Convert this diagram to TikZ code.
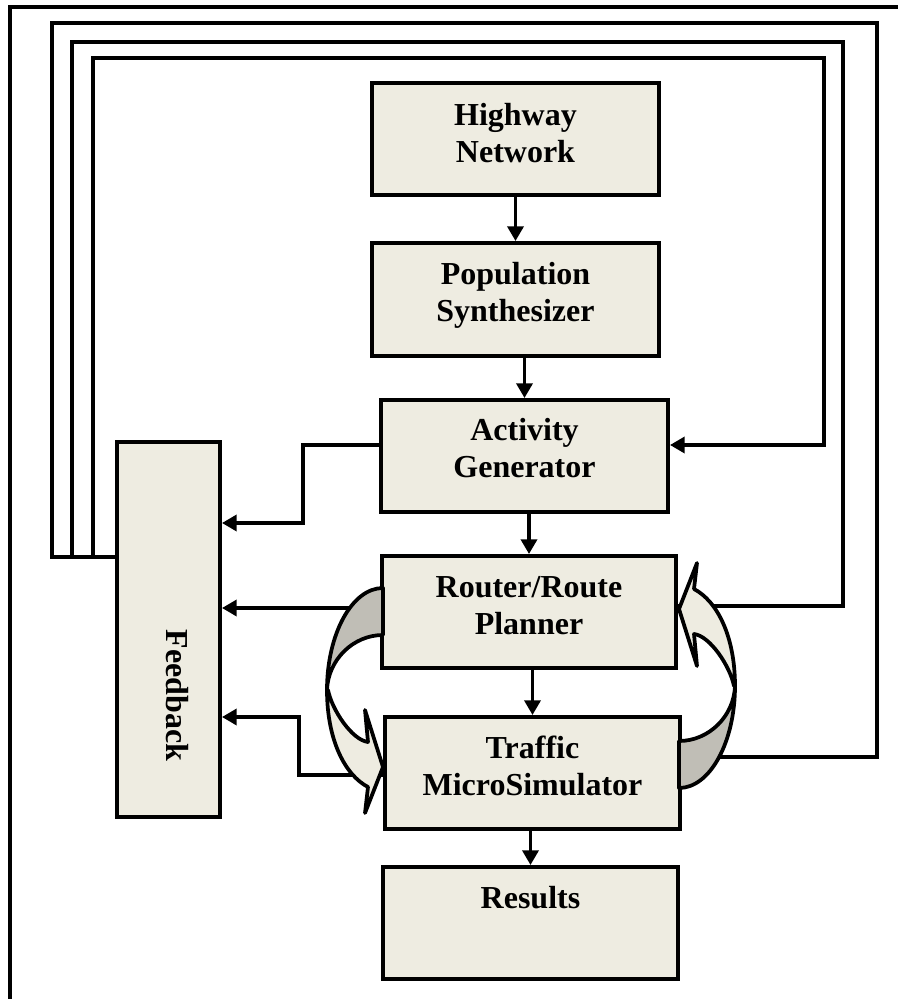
\documentclass[tikz,border=0pt]{standalone}
\usepackage{fontspec}
\usepackage{graphicx}
\setmainfont{Liberation Serif}
\usetikzlibrary{arrows.meta}
\definecolor{boxfill}{HTML}{EEECE1}
\definecolor{darkfill}{RGB}{192,190,182}
\begin{document}
\begin{tikzpicture}[x=0.75pt,y=-0.75pt,
  box/.style={draw, line width=3pt, fill=boxfill, inner sep=0pt, align=center,
    font=\fontsize{24}{27.6}\selectfont\bfseries, text depth=0pt},
  conn/.style={line width=2.6pt},
  arr/.style={conn, -{Triangle[width=12pt,length=11pt]}},
  frame/.style={line width=2.6pt},
  bandline/.style={line width=2.8pt, line join=round},
  curvarr/.pic={
    \filldraw[bandline, fill=boxfill] (327,690) .. controls (327,740) and (345,775) .. (368,787)
      -- (365,813) -- (383,767) -- (365,710) -- (368,742)
      .. controls (352,740) and (332,710) .. (328,690) -- cycle;
    \filldraw[bandline, fill=darkfill] (383,588) .. controls (352,588) and (327,634) .. (327,690)
      .. controls (328,660) and (353,635) .. (383,635) -- cycle;
  }]
\useasboundingbox (0,0) rectangle (898,999);

% outer frame
\draw[frame] (10,1010) -- (10,7) -- (910,7);

% boxes
\node[box, minimum width=215.25pt, minimum height=84pt, text height=34.5pt] (hw) at (515.5,139) {Highway\\Network};
\node[box, minimum width=215.25pt, minimum height=84.75pt, text height=32.25pt] (pop) at (515.5,299.5) {Population\\Synthesizer};
\node[box, minimum width=215.25pt, minimum height=84pt, text height=31.5pt] (act) at (524.5,456) {Activity\\Generator};
\node[box, minimum width=220.5pt, minimum height=84pt, text height=33pt] (rp) at (529,612) {Router/Route\\Planner};
\node[box, minimum width=221.25pt, minimum height=84pt, text height=33pt] (tr) at (532.5,773) {Traffic\\MicroSimulator};
\node[box, minimum width=221.25pt, minimum height=84pt, text height=0pt, text depth=22.5pt] (res) at (530.5,923) {Results};
\node[box, minimum width=77.25pt, minimum height=281.25pt] (fb) at (168.5,629.5) {\rotatebox{-90}{\raisebox{0pt}[3pt][0pt]{Feedback}}};

% main chain
\draw[arr] (hw) -- (pop);
\draw[arr] (pop.south -| act.north) -- (act.north);
\draw[arr] (act.south -| rp.north) -- (rp.north);
\draw[arr] (rp.south -| tr.north) -- (tr.north);
\draw[arr] (tr.south -| res.north) -- (res.north);

% to feedback
\draw[arr] (act.west |- 0,445) -- (303,445) -- (303,523) -- (fb.east |- 0,523);
\draw[arr] (rp.west |- 0,608) -- (fb.east |- 0,608);
\draw[arr] (tr.west |- 0,775) -- (299,775) -- (299,717) -- (fb.east |- 0,717);

% feedback loops
\coordinate (jB) at (72,557);
\coordinate (jC) at (93,557);
\draw[conn] (fb.west |- 0,557) -- (52,557) -- (52,23) -- (877,23) -- (877,757) -- (tr.east |- 0,757);
\draw[conn] (jB) -- (72,42) -- (843,42) -- (843,606) -- (rp.east |- 0,606);
\draw[arr] (jC) -- (93,58) -- (824,58) -- (824,445) -- (act.east |- 0,445);

% curved arrows
\pic at (0,0) {curvarr};
\pic[rotate=180] at (1062,1376) {curvarr};
\end{tikzpicture}
\end{document}
